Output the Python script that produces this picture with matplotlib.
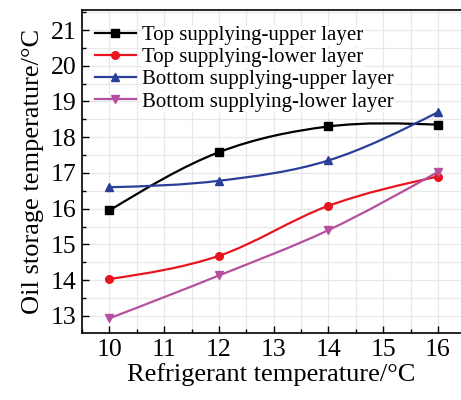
import numpy as np
import matplotlib
matplotlib.use("Agg")
import matplotlib.pyplot as plt
from matplotlib.path import Path
from matplotlib.patches import PathPatch
from matplotlib.lines import Line2D
from matplotlib.ticker import MultipleLocator

plt.rcParams['font.family'] = ['Liberation Serif', 'DejaVu Serif']

# data
refrigerant_temp = [10, 12, 14, 16]
top_upper = [15.95, 17.58, 18.30, 18.35]
top_lower = [14.03, 14.68, 16.08, 16.90]
bottom_upper = [16.60, 16.78, 17.35, 18.70]
bottom_lower = [12.93, 14.13, 15.40, 17.03]

series_labels = ["Top supplying-upper layer", "Top supplying-lower layer",
                 "Bottom supplying-upper layer", "Bottom supplying-lower layer"]
colors = ["#000000", "#e8151e", "#2a3f98", "#b4509e"]
markers = ["s", "o", "^", "v"]


def smooth_path(x, y):
    """Cubic Bezier path through the points (spline-like connection)."""
    x = np.asarray(x, float)
    y = np.asarray(y, float)
    d = np.diff(y) / np.diff(x)
    m = np.zeros_like(y)
    m[1:-1] = (y[2:] - y[:-2]) / (x[2:] - x[:-2])
    m[0] = (3 * d[0] - m[1]) / 2
    m[-1] = (3 * d[-1] - m[-2]) / 2
    verts = [(x[0], y[0])]
    codes = [Path.MOVETO]
    for i in range(len(x) - 1):
        h = x[i + 1] - x[i]
        verts += [(x[i] + h / 3, y[i] + m[i] * h / 3),
                  (x[i + 1] - h / 3, y[i + 1] - m[i + 1] * h / 3),
                  (x[i + 1], y[i + 1])]
        codes += [Path.CURVE4] * 3
    return Path(verts, codes)


fig = plt.figure(figsize=(4.61, 4.0), dpi=100)
ax = fig.add_axes([0.178, 0.1675, 0.822, 0.8075])

handles = []
for ys, lab, c, mk in zip([top_upper, top_lower, bottom_upper, bottom_lower],
                          series_labels, colors, markers):
    ax.add_patch(PathPatch(smooth_path(refrigerant_temp, ys), facecolor='none',
                           edgecolor=c, lw=1.6, zorder=3))
    ax.plot(refrigerant_temp, ys, ls='none', marker=mk, color=c, ms=5.5, zorder=4)
    handles.append(Line2D([], [], color=c, lw=1.6, marker=mk, ms=5.5))

ax.set_xlim(9.5, 16.42)
ax.set_ylim(12.52, 21.56)
ax.xaxis.set_major_locator(MultipleLocator(1))
ax.xaxis.set_minor_locator(MultipleLocator(0.5))
ax.yaxis.set_major_locator(MultipleLocator(1))
ax.yaxis.set_minor_locator(MultipleLocator(0.5))
ax.grid(True, which='both', color='#e8e8e8', lw=0.9, zorder=0)
ax.set_axisbelow(True)

ax.tick_params(which='both', direction='in', top=False, right=False,
               labelsize=18.5, width=1.0, pad=4)
ax.tick_params(which='major', length=5)
ax.tick_params(which='minor', length=3)
ax.spines['right'].set_visible(False)
for s in ['left', 'bottom', 'top']:
    ax.spines[s].set_linewidth(1.2)

ax.set_xlabel("Refrigerant temperature/°C", fontsize=19, labelpad=2)
ax.set_ylabel("Oil storage temperature/°C", fontsize=19, labelpad=5)

leg = ax.legend(handles, series_labels, loc='upper left', bbox_to_anchor=(0.0, 0.99),
                frameon=False, fontsize=15, handlelength=2.0, handletextpad=0.3,
                labelspacing=0.12, borderaxespad=0.2)
for t in leg.get_texts():
    t.set_bbox(dict(facecolor='white', edgecolor='none', pad=0.5))

fig.savefig("out.png", dpi=100)
